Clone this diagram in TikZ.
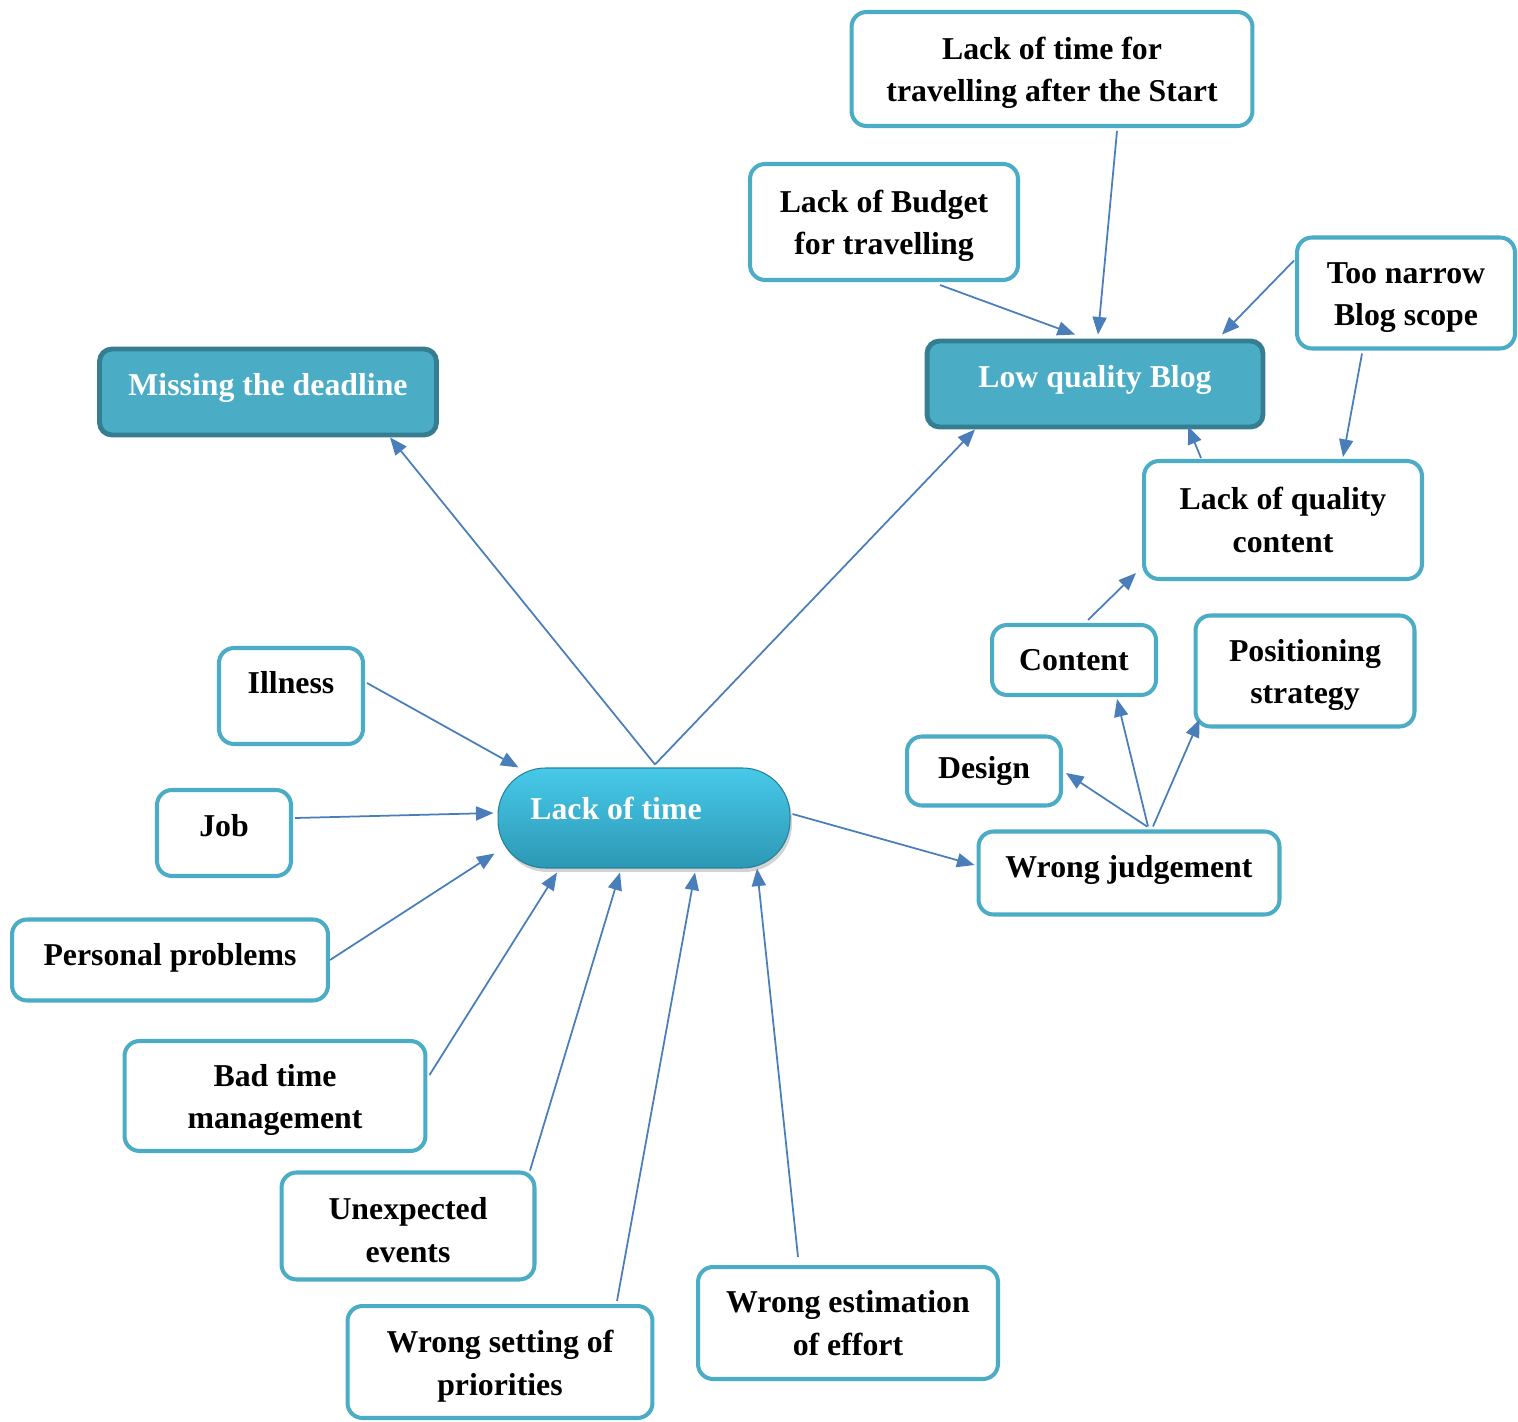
\documentclass[tikz,border=0pt]{standalone}
\usepackage{fontspec}
\setmainfont{Liberation Serif}
\usetikzlibrary{arrows.meta, calc, shadows}

\definecolor{boxcyan}{HTML}{4BACC6}
\definecolor{boxteal}{HTML}{367D91}
\definecolor{arrowblue}{HTML}{4A7EBB}
\definecolor{pilltop}{HTML}{48C9E9}
\definecolor{pillbottom}{HTML}{2C98B5}

\begin{document}
\begin{tikzpicture}[x=0.02cm, y=-0.02cm,
        every node/.style={font=\fontsize{18.1}{24.4}\selectfont\bfseries},
        box/.style={draw=boxcyan, line width=2.3pt, rounded corners=0.3cm, fill=white, align=center, inner sep=2pt},
        twoline/.style={box, text height=41.5pt},
        keybox/.style={draw=boxteal, fill=boxcyan, line width=2.8pt, rounded corners=0.25cm, text=white, inner sep=2pt},
        pill/.style={draw=pillbottom!85!black, line width=0.6pt, rounded corners=0.95cm, top color=pilltop, bottom color=pillbottom,
            text=white, drop shadow={opacity=0.35, shadow xshift=0.04cm, shadow yshift=-0.08cm}},
        arr/.style={draw=arrowblue, line width=1pt, -{Triangle[length=10pt,width=8pt]}}]

        \useasboundingbox (0,0) rectangle (1518,1422);

        % Draw the central node
        \node[pill, minimum width=5.84cm, minimum height=2.0cm, text depth=11pt] (lack) at (644,818) {Lack of time\kern1.12cm};

        % Draw the two outcomes
        \node[keybox, minimum width=6.74cm, minimum height=1.72cm, text depth=9pt] (deadline) at (268,392) {Missing the deadline};
        \node[keybox, minimum width=6.72cm, minimum height=1.72cm, text depth=9pt] (blog) at (1095,384) {Low quality Blog};

        % Draw the causes of the lack of time
        \node[box, minimum width=2.88cm, minimum height=1.92cm, text depth=15pt] (illness) at (291,696) {Illness};
        \node[box, minimum width=2.68cm, minimum height=1.72cm, text depth=9pt] (job) at (224,833) {Job};
        \node[box, minimum width=6.32cm, minimum height=1.62cm, text depth=6pt] (personal) at (170,960) {Personal problems};
        \node[twoline, minimum width=6.02cm, minimum height=2.2cm] (badtime) at (275,1096) {Bad time\\management};
        \node[twoline, minimum width=5.06cm, minimum height=2.14cm] (unexpected) at (408,1226) {Unexpected\\events};
        \node[twoline, minimum width=6.1cm, minimum height=2.24cm] (priorities) at (500,1362) {Wrong setting of\\priorities};
        \node[box, minimum width=6.0cm, minimum height=2.24cm] (effort) at (848,1323) {Wrong estimation\\of effort};

        % Draw the judgement branch
        \node[box, minimum width=6.02cm, minimum height=1.66cm, text depth=7pt] (judgement) at (1129,873) {Wrong judgement};
        \node[box, minimum width=3.08cm, minimum height=1.38cm] (design) at (984,771) {Design};
        \node[box, minimum width=3.28cm, minimum height=1.4cm] (content) at (1074,660) {Content};
        \node[twoline, minimum width=4.38cm, minimum height=2.22cm] (positioning) at (1305,671) {Positioning\\strategy};

        % Draw the causes of the low quality
        \node[box, minimum width=5.56cm, minimum height=2.36cm] (quality) at (1283,520) {Lack of quality\\content};
        \node[twoline, minimum width=4.36cm, minimum height=2.22cm] (narrow) at (1406,293) {Too narrow\\Blog scope};
        \node[twoline, minimum width=5.36cm, minimum height=2.32cm] (budget) at (884,222) {Lack of Budget\\for travelling};
        \node[twoline, minimum width=8.02cm, minimum height=2.28cm] (travel) at (1052,69) {Lack of time for\\travelling after the Start};

        % Arrows out of the central node
        \draw[arr] ($(lack.north)+(11,-3)$) -- ($(deadline.south)+(122,0)$);
        \draw[arr] ($(lack.north)+(11,-3)$) -- ($(blog.south)+(-120,0)$);
        \draw[arr] ($(lack.east)+(2,-4)$) -- ($(judgement.west)+(-2,-8)$);

        % Arrows into the central node
        \draw[arr] ($(illness.east)+(2,-13)$) -- ($(lack.north west)+(21,0)$);
        \draw[arr] ($(job.east)+(2,-15)$) -- ($(lack.west)+(-4,-5)$);
        \draw[arr] (personal.east) -- ($(lack.south west)+(-3,-15)$);
        \draw[arr] ($(badtime.east)+(2,-21)$) -- ($(lack.south)+(-87,4)$);
        \draw[arr] ($(unexpected.north)+(122,0)$) -- ($(lack.south)+(-24,4)$);
        \draw[arr] ($(priorities.north)+(117,-3)$) -- ($(lack.south)+(51,4)$);
        \draw[arr] ($(effort.north)+(-50,-8)$) -- ($(lack.south)+(113,0)$);

        % Arrows of the judgement branch
        \draw[arr] ($(judgement.north)+(18,-3)$) -- ($(design.east)+(3,2)$);
        \draw[arr] ($(judgement.north)+(19,-3)$) -- ($(content.south)+(43,2)$);
        \draw[arr] ($(judgement.north)+(24,-3)$) -- ($(positioning.south west)+(6,-9)$);
        \draw[arr] ($(content.north)+(14,-3)$) -- ($(quality.south west)+(-6,-8)$);

        % Arrows into the low quality blog
        \draw[arr] ($(quality.north)+(-82,-1)$) -- ($(blog.south)+(93,-3)$);
        \draw[arr] ($(narrow.south)+(-44,3)$) -- ($(quality.north)+(60,-2)$);
        \draw[arr] ($(narrow.north west)+(-1,25)$) -- ($(blog.north)+(127,-4)$);
        \draw[arr] ($(budget.south)+(56,3)$) -- ($(blog.north)+(-20,-4)$);
        \draw[arr] ($(travel.south)+(65,3)$) -- ($(blog.north)+(3,-4)$);

    \end{tikzpicture}
\end{document}
